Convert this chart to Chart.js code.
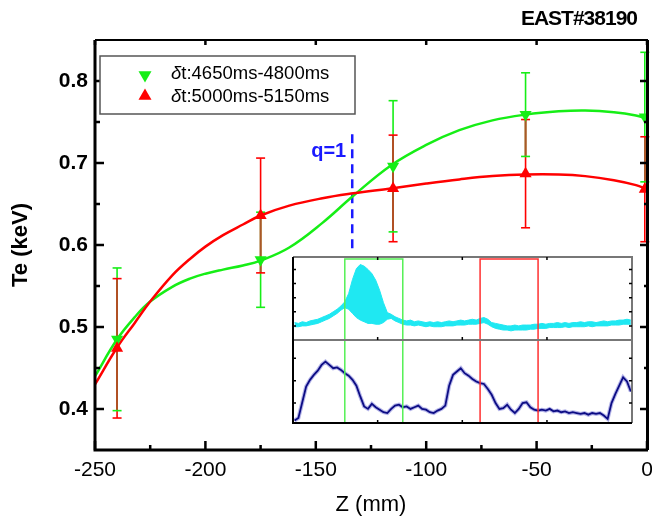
<!DOCTYPE html>
<html>
<head>
<meta charset="utf-8">
<title>Te profile EAST#38190</title>
<script src="https://cdn.jsdelivr.net/npm/chart.js@4.4.0/dist/chart.umd.min.js"></script>
<style>
  html, body { margin: 0; padding: 0; background: #fff; }
  #wrap { position: relative; width: 652px; height: 519px; }
  #main { position: absolute; left: 0; top: 0; }
  #inset { position: absolute; left: 280px; top: 250px; }
</style>
</head>
<body>
<div id="wrap">
  <canvas id="main" width="652" height="519"></canvas>
  <canvas id="inset" width="360" height="180"></canvas>
</div>
<script>
/* ---------- Te profile data ---------- */
const shotLabel = "EAST#38190";
const seriesNames = ["δt:4650ms-4800ms", "δt:5000ms-5150ms"];

const zPos = [-240, -175, -115, -55, -1];
const teEarly = [0.485, 0.582, 0.696, 0.759, 0.756];
const errEarly = [0.087, 0.058, 0.080, 0.051, 0.079];
const teLate = [0.474, 0.636, 0.669, 0.687, 0.668];
const errLate = [0.085, 0.070, 0.065, 0.066, 0.064];

// smoothed profile fits
const fitZ = [-250, -240, -232, -225, -215, -207, -200, -192, -183, -175, -162, -147, -133, -116, -100, -85, -70, -55, -40, -28, -15, -5, 0];
const fitEarly = [0.440, 0.485, 0.512, 0.531, 0.549, 0.559, 0.565, 0.570, 0.575, 0.581, 0.597, 0.627, 0.660, 0.697, 0.722, 0.740, 0.752, 0.759, 0.763, 0.764, 0.762, 0.758, 0.754];
const fitLate = [0.430, 0.475, 0.505, 0.531, 0.563, 0.583, 0.598, 0.612, 0.625, 0.636, 0.648, 0.657, 0.663, 0.669, 0.675, 0.680, 0.684, 0.686, 0.686, 0.684, 0.679, 0.673, 0.668];

// q=1 surface position
const q1Z = -133.5;
const q1Range = [0.596, 0.737];
const q1Label = "q=1";

const xTickVals = [-250, -200, -150, -100, -50, 0];
const xMinorVals = [-225, -175, -125, -75, -25];
const yTickVals = [0.4, 0.5, 0.6, 0.7, 0.8];
const yMinorVals = [0.45, 0.55, 0.65, 0.75];

/* ---------- inset signals (SXR, H-alpha) ---------- */
const tMs = [4520, 4530, 4540, 4550, 4560, 4570, 4580, 4590, 4600, 4610, 4620, 4630, 4640, 4650, 4660, 4670, 4680, 4690, 4700, 4710,
  4720, 4730, 4740, 4750, 4760, 4770, 4780, 4790, 4800, 4810, 4820, 4830, 4840, 4850, 4860, 4870, 4880, 4890, 4900, 4910,
  4920, 4930, 4940, 4950, 4960, 4970, 4980, 4990, 5000, 5010, 5020, 5030, 5040, 5050, 5060, 5070, 5080, 5090, 5100, 5110,
  5120, 5130, 5140, 5150, 5160, 5170, 5180, 5190, 5200, 5210, 5220, 5230, 5240, 5250, 5260, 5270, 5280, 5290, 5300, 5310,
  5320, 5330, 5340, 5350, 5360, 5370, 5380, 5390];
const sxrHigh = [0.21, 0.20, 0.22, 0.21, 0.23, 0.24, 0.25, 0.27, 0.29, 0.31, 0.34, 0.37, 0.41, 0.46, 0.56, 0.73, 0.86, 0.91, 0.89, 0.85,
  0.80, 0.72, 0.60, 0.45, 0.33, 0.31, 0.28, 0.26, 0.24, 0.23, 0.24, 0.22, 0.23, 0.22, 0.21, 0.22, 0.21, 0.22, 0.21, 0.22,
  0.23, 0.22, 0.23, 0.24, 0.23, 0.24, 0.25, 0.24, 0.26, 0.27, 0.25, 0.21, 0.20, 0.19, 0.18, 0.17, 0.17, 0.18, 0.17, 0.18,
  0.18, 0.18, 0.19, 0.19, 0.20, 0.19, 0.20, 0.20, 0.21, 0.20, 0.21, 0.20, 0.21, 0.21, 0.22, 0.21, 0.22, 0.22, 0.21, 0.22,
  0.23, 0.22, 0.23, 0.23, 0.24, 0.24, 0.25, 0.24];
const sxrLow = [0.16, 0.16, 0.17, 0.17, 0.18, 0.19, 0.20, 0.22, 0.24, 0.26, 0.29, 0.32, 0.36, 0.39, 0.37, 0.32, 0.27, 0.24, 0.22, 0.20,
  0.20, 0.19, 0.19, 0.21, 0.25, 0.26, 0.23, 0.21, 0.19, 0.18, 0.18, 0.17, 0.18, 0.17, 0.16, 0.17, 0.16, 0.16, 0.16, 0.17,
  0.17, 0.17, 0.18, 0.18, 0.18, 0.19, 0.19, 0.19, 0.20, 0.21, 0.19, 0.16, 0.14, 0.13, 0.12, 0.12, 0.11, 0.12, 0.12, 0.12,
  0.12, 0.13, 0.13, 0.14, 0.14, 0.14, 0.15, 0.15, 0.15, 0.15, 0.16, 0.15, 0.16, 0.16, 0.16, 0.16, 0.17, 0.16, 0.17, 0.17,
  0.17, 0.17, 0.18, 0.18, 0.18, 0.19, 0.19, 0.19];
const halpha = [0.03, 0.06, 0.25, 0.44, 0.52, 0.58, 0.63, 0.70, 0.74, 0.70, 0.66, 0.67, 0.64, 0.60, 0.57, 0.52, 0.45, 0.32, 0.20, 0.17,
  0.23, 0.19, 0.16, 0.13, 0.12, 0.17, 0.21, 0.22, 0.19, 0.20, 0.17, 0.19, 0.21, 0.17, 0.16, 0.13, 0.12, 0.15, 0.17, 0.21,
  0.45, 0.58, 0.62, 0.66, 0.60, 0.57, 0.53, 0.50, 0.48, 0.47, 0.41, 0.34, 0.24, 0.17, 0.18, 0.22, 0.16, 0.12, 0.17, 0.24,
  0.25, 0.19, 0.16, 0.15, 0.16, 0.15, 0.17, 0.14, 0.15, 0.13, 0.14, 0.12, 0.13, 0.12, 0.11, 0.12, 0.10, 0.12, 0.11, 0.12,
  0.09, 0.05, 0.24, 0.35, 0.45, 0.55, 0.50, 0.38];

const boxEarly = [4650, 4800];
const boxLate = [5000, 5150];
const insetRange = [4516, 5393];
const insetXTicks = [4735, 4954, 5173];
const sxrTicks = [0.17, 0.34, 0.51, 0.68, 0.85];
const haTicks = [0.24, 0.51, 0.78];

/* ---------- colours / fonts ---------- */
const GREEN = "#16ee16";
const RED = "#ff0000";
const BROWN = "#a8582a";
const BLUE = "#1a1aff";
const CYAN = "#1fe8f2";
const NAVY = "#0c0c84";
const FONT = "'Liberation Sans', Arial, sans-serif";

/* ================= MAIN CHART PLUGINS ================= */
const errorBars = {
  id: "errorBars",
  beforeDatasetsDraw(chart) {
    const { ctx, scales: { x, y } } = chart;
    ctx.save();
    ctx.lineWidth = 1.6;
    const vbar = (px, lo, hi, col) => {
      ctx.strokeStyle = col;
      ctx.beginPath();
      ctx.moveTo(px, y.getPixelForValue(lo));
      ctx.lineTo(px, y.getPixelForValue(hi));
      ctx.stroke();
    };
    const cap = (px, v, col) => {
      const py = y.getPixelForValue(v);
      ctx.strokeStyle = col;
      ctx.beginPath();
      ctx.moveTo(px - 4.5, py);
      ctx.lineTo(px + 4.5, py);
      ctx.stroke();
    };
    zPos.forEach((z, i) => {
      const px = x.getPixelForValue(z);
      const g0 = teEarly[i] - errEarly[i], g1 = teEarly[i] + errEarly[i];
      const r0 = teLate[i] - errLate[i], r1 = teLate[i] + errLate[i];
      vbar(px, g0, g1, GREEN);
      vbar(px, r0, r1, RED);
      const lo = Math.max(g0, r0), hi = Math.min(g1, r1);
      if (hi > lo) vbar(px, lo, hi, BROWN);
      cap(px, g0, GREEN); cap(px, g1, GREEN);
      cap(px, r0, RED); cap(px, r1, RED);
    });
    ctx.restore();
  }
};

function triangle(ctx, cx, cy, r, down) {
  const s = down ? -1 : 1;
  ctx.beginPath();
  ctx.moveTo(cx, cy - s * r);
  ctx.lineTo(cx + r * 0.866, cy + s * r * 0.5);
  ctx.lineTo(cx - r * 0.866, cy + s * r * 0.5);
  ctx.closePath();
  ctx.fill();
}

const frame = {
  id: "frame",
  afterDatasetsDraw(chart) {
    const { ctx, chartArea: a, scales: { x, y } } = chart;
    ctx.save();

    // axes box
    ctx.strokeStyle = "#000";
    ctx.lineWidth = 3;
    ctx.beginPath();
    ctx.moveTo(a.left, a.top); ctx.lineTo(a.left, a.bottom); ctx.lineTo(a.right + 1, a.bottom);
    ctx.moveTo(a.right + 0.5, a.top); ctx.lineTo(a.right + 0.5, a.bottom);
    ctx.stroke();
    ctx.lineWidth = 2;
    ctx.beginPath();
    ctx.moveTo(a.left, a.top); ctx.lineTo(a.right + 1, a.top);
    ctx.stroke();

    // inward ticks
    ctx.lineWidth = 2.5;
    ctx.beginPath();
    yTickVals.concat(yMinorVals).forEach(v => {
      const py = y.getPixelForValue(v);
      const len = yTickVals.includes(v) ? 9 : 5;
      ctx.moveTo(a.left, py); ctx.lineTo(a.left + len, py);
      ctx.moveTo(a.right, py); ctx.lineTo(a.right - len + 2, py);
    });
    xTickVals.concat(xMinorVals).forEach(v => {
      const px = x.getPixelForValue(v);
      const len = xTickVals.includes(v) ? 9 : 5;
      ctx.moveTo(px, a.bottom); ctx.lineTo(px, a.bottom - len);
      ctx.moveTo(px, a.top); ctx.lineTo(px, a.top + len - 4);
    });
    ctx.stroke();

    // q=1 label
    ctx.fillStyle = BLUE;
    ctx.font = "bold 20px " + FONT;
    ctx.textAlign = "right";
    ctx.textBaseline = "middle";
    ctx.fillText(q1Label, x.getPixelForValue(q1Z) - 6, y.getPixelForValue(0.714));

    // shot number
    ctx.fillStyle = "#000";
    ctx.font = "bold 21px " + FONT;
    ctx.letterSpacing = "-1px";
    ctx.textAlign = "right";
    ctx.textBaseline = "alphabetic";
    ctx.fillText(shotLabel, 637, 25);
    ctx.letterSpacing = "0px";

    // legend
    const lx = 100, ly = 56, lw = 255, lh = 58;
    ctx.strokeStyle = "#555";
    ctx.lineWidth = 1.5;
    ctx.fillStyle = "#fff";
    ctx.fillRect(lx, ly, lw, lh);
    ctx.strokeRect(lx, ly, lw, lh);
    const rows = [
      { name: seriesNames[0], col: GREEN, down: true, yc: 74 },
      { name: seriesNames[1], col: RED, down: false, yc: 97 }
    ];
    rows.forEach(r => {
      ctx.fillStyle = r.col;
      triangle(ctx, 145, r.yc + (r.down ? 1 : -1), 7.5, r.down);
      ctx.fillStyle = "#000";
      ctx.textAlign = "left";
      ctx.textBaseline = "middle";
      ctx.font = "italic 18.5px " + FONT;
      const greek = r.name.charAt(0);
      ctx.fillText(greek, 171, r.yc);
      const gw = ctx.measureText(greek).width;
      ctx.font = "18.5px " + FONT;
      ctx.fillText(r.name.slice(1), 171 + gw, r.yc);
    });
    ctx.restore();
  }
};

const pts = (xs, ys) => xs.map((v, i) => ({ x: v, y: ys[i] }));

new Chart(document.getElementById("main"), {
  type: "line",
  data: {
    datasets: [
      {
        label: seriesNames[1], data: pts(zPos, teLate), showLine: false, order: 0,
        pointStyle: "triangle", rotation: 0, pointRadius: 7, pointBorderWidth: 0,
        pointBackgroundColor: RED, borderColor: RED
      },
      {
        label: seriesNames[0], data: pts(zPos, teEarly), showLine: false, order: 1,
        pointStyle: "triangle", rotation: 180, pointRadius: 7, pointBorderWidth: 0,
        pointBackgroundColor: GREEN, borderColor: GREEN
      },
      {
        data: pts(fitZ, fitEarly), order: 3, borderColor: GREEN, borderWidth: 2.5,
        pointRadius: 0, tension: 0.4
      },
      {
        data: pts(fitZ, fitLate), order: 2, borderColor: RED, borderWidth: 2.5,
        pointRadius: 0, tension: 0.4
      },
      {
        data: [{ x: q1Z, y: q1Range[0] }, { x: q1Z, y: q1Range[1] }], order: 4,
        borderColor: BLUE, borderWidth: 2.5, borderDash: [9, 6], pointRadius: 0
      }
    ]
  },
  options: {
    responsive: false,
    animation: false,
    devicePixelRatio: 1,
    layout: { autoPadding: false, padding: { top: 40, right: 5, left: 0, bottom: 0 } },
    plugins: { legend: { display: false }, tooltip: { enabled: false } },
    scales: {
      x: {
        type: "linear", min: -250, max: 0,
        afterBuildTicks: s => { s.ticks = xTickVals.map(v => ({ value: v })); },
        afterFit: s => { s.height = 69; s.paddingLeft = 0; s.paddingRight = 0; },
        grid: { display: false, drawTicks: false },
        border: { display: false },
        ticks: { color: "#000", padding: 8, maxRotation: 0, font: { family: FONT, size: 21 } },
        title: { display: true, text: "Z (mm)", color: "#000", font: { family: FONT, size: 22 }, padding: { top: 0, bottom: 1 } }
      },
      y: {
        type: "linear", min: 0.35, max: 0.85,
        afterBuildTicks: s => { s.ticks = yTickVals.map(v => ({ value: v })); },
        afterFit: s => { s.width = 95; },
        grid: { display: false, drawTicks: false },
        border: { display: false },
        ticks: { color: "#000", padding: 7, font: { family: FONT, size: 21, weight: "bold" }, callback: v => v.toFixed(1) },
        title: { display: true, text: "Te (keV)", color: "#000", font: { family: FONT, size: 22, weight: "bold" }, padding: { top: 8, bottom: 0 } }
      }
    }
  },
  plugins: [errorBars, frame]
});

/* ================= INSET ================= */
const insetDeco = {
  id: "insetDeco",
  beforeDraw(chart) {
    const { ctx, chartArea: a } = chart;
    ctx.save();
    ctx.fillStyle = "#fff";
    ctx.fillRect(a.left, a.top, a.right - a.left, a.bottom - a.top);
    ctx.restore();
  },
  afterDraw(chart) {
    const { ctx, chartArea: a, scales: { x, ys, yh } } = chart;
    const mid = ys.getPixelForValue(0);
    ctx.save();

    // time windows
    ctx.lineWidth = 1.5;
    [[boxEarly, "#55f055"], [boxLate, "#ff3030"]].forEach(([b, col]) => {
      ctx.strokeStyle = col;
      const x0 = x.getPixelForValue(b[0]), x1 = x.getPixelForValue(b[1]);
      ctx.strokeRect(x0, a.top + 2, x1 - x0, a.bottom - a.top - 2);
    });

    // frame
    ctx.lineWidth = 2;
    ctx.strokeStyle = "#777";
    ctx.beginPath();
    ctx.moveTo(a.left, a.top); ctx.lineTo(a.right, a.top); ctx.lineTo(a.right, a.bottom);
    ctx.moveTo(a.left, mid); ctx.lineTo(a.right, mid);
    ctx.stroke();
    ctx.strokeStyle = "#000";
    ctx.beginPath();
    ctx.moveTo(a.left, a.top); ctx.lineTo(a.left, a.bottom); ctx.lineTo(a.right, a.bottom);
    ctx.stroke();

    // ticks
    ctx.lineWidth = 1.5;
    ctx.beginPath();
    insetXTicks.forEach(v => {
      const px = x.getPixelForValue(v);
      ctx.moveTo(px, a.top); ctx.lineTo(px, a.top + 3);
      ctx.moveTo(px, mid); ctx.lineTo(px, mid - 3);
      ctx.moveTo(px, a.bottom); ctx.lineTo(px, a.bottom - 3);
    });
    sxrTicks.forEach(v => {
      const py = ys.getPixelForValue(v);
      ctx.moveTo(a.left, py); ctx.lineTo(a.left + 3, py);
      ctx.moveTo(a.right, py); ctx.lineTo(a.right - 3, py);
    });
    haTicks.forEach(v => {
      const py = yh.getPixelForValue(v);
      ctx.moveTo(a.left, py); ctx.lineTo(a.left + 3, py);
      ctx.moveTo(a.right, py); ctx.lineTo(a.right - 3, py);
    });
    ctx.stroke();

    // signal names
    ctx.fillStyle = "#000";
    ctx.textBaseline = "alphabetic";
    ctx.textAlign = "right";
    ctx.font = "20px " + FONT;
    ctx.letterSpacing = "-1px";
    ctx.fillText("SXR", a.right - 8, 289);
    ctx.letterSpacing = "0px";
    ctx.textAlign = "left";
    ctx.font = "21px " + FONT;
    ctx.fillText("H", 603, 377);
    ctx.font = "italic 19px 'DejaVu Serif', serif";
    ctx.fillText("α", 617, 377);
    ctx.restore();
  }
};

new Chart(document.getElementById("inset"), {
  type: "line",
  data: {
    datasets: [
      { data: pts(tMs, halpha), yAxisID: "yh", borderColor: NAVY, borderWidth: 1.8, pointRadius: 0, tension: 0 },
      { data: pts(tMs, halpha), yAxisID: "yh", borderColor: "rgba(70,70,200,0.4)", borderWidth: 4, pointRadius: 0, tension: 0 },
      { data: pts(tMs, sxrHigh), yAxisID: "ys", borderColor: CYAN, borderWidth: 1, pointRadius: 0, tension: 0, fill: false },
      { data: pts(tMs, sxrLow), yAxisID: "ys", borderColor: CYAN, borderWidth: 1, pointRadius: 0, tension: 0, fill: "-1", backgroundColor: CYAN }
    ]
  },
  options: {
    responsive: false,
    animation: false,
    devicePixelRatio: 1,
    layout: { autoPadding: false, padding: { left: 13, right: 8, top: 7, bottom: 7 } },
    plugins: { legend: { display: false }, tooltip: { enabled: false } },
    scales: {
      x: { type: "linear", display: false, min: insetRange[0], max: insetRange[1] },
      ys: { type: "linear", display: false, min: -1, max: 1 },
      yh: { type: "linear", display: false, min: 0, max: 2 }
    }
  },
  plugins: [insetDeco]
});
</script>
</body>
</html>
